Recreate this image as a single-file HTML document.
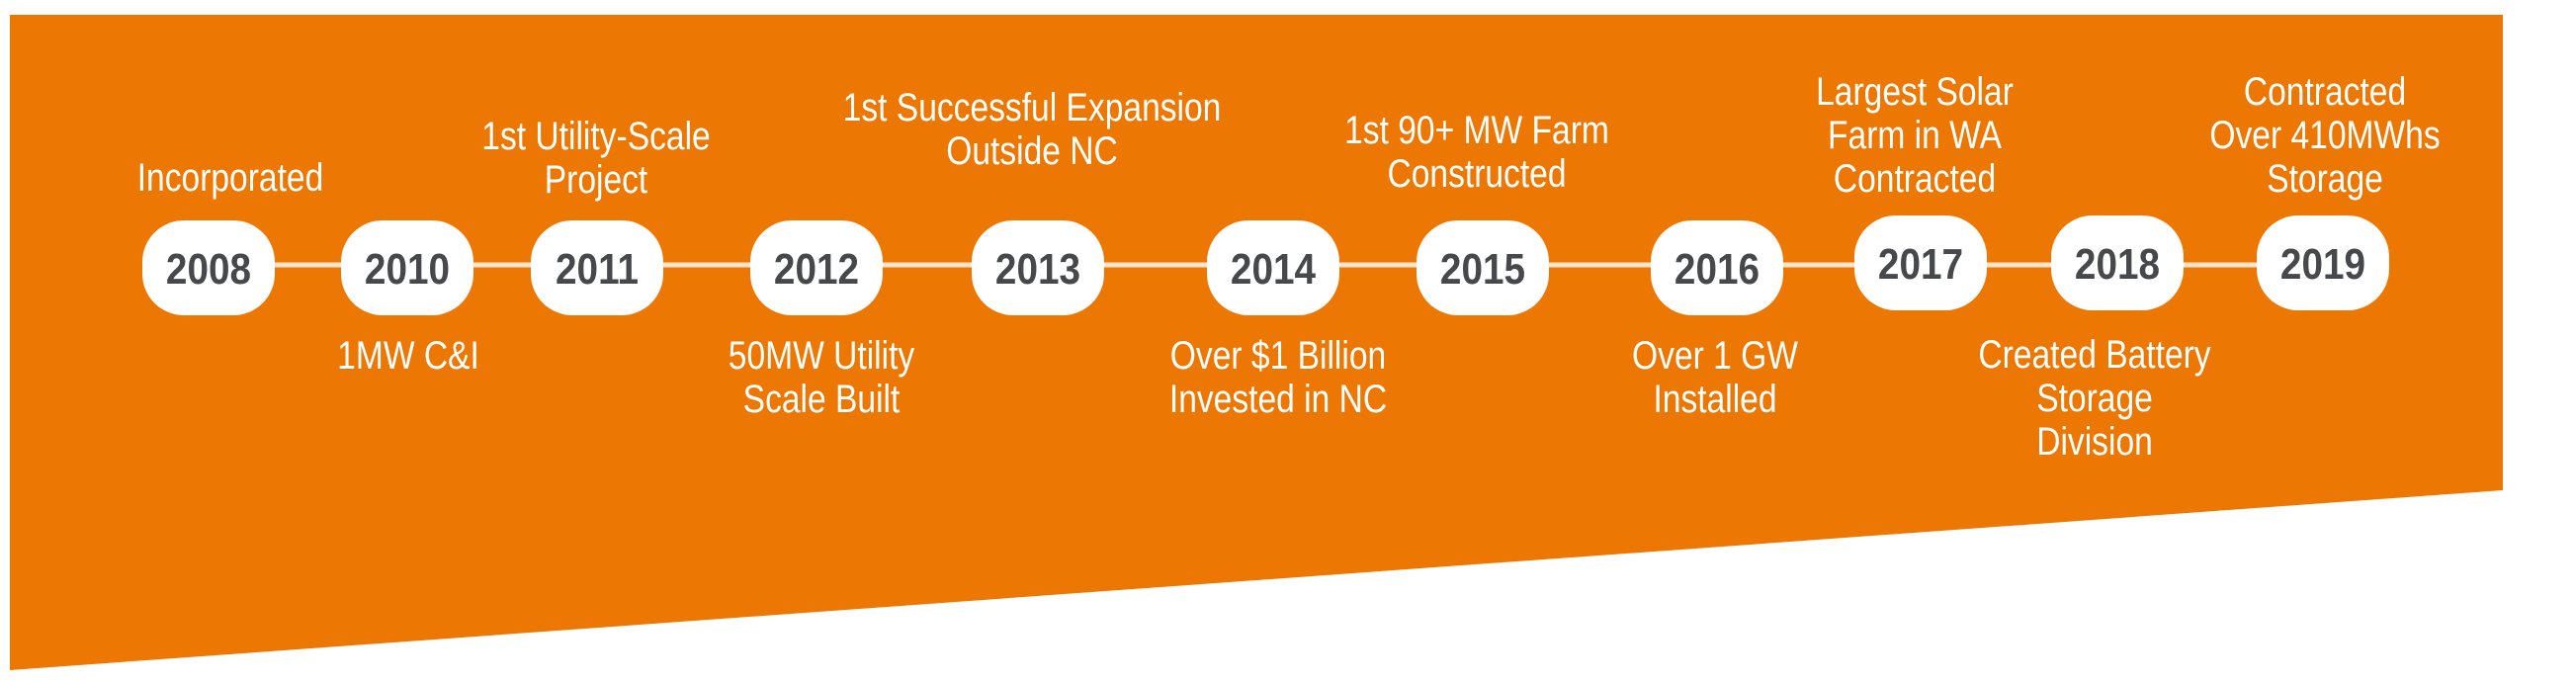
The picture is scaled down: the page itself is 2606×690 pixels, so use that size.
<!DOCTYPE html>
<html><head><meta charset="utf-8"><style>
html,body{margin:0;padding:0;background:#fff;width:2606px;height:690px;overflow:hidden}
svg{display:block}
.lbl{font-family:"Liberation Sans Narrow","Liberation Sans",sans-serif;font-size:40px;fill:#fff;text-anchor:middle}
.yr{font-family:"Liberation Sans",sans-serif;font-weight:bold;font-size:44px;fill:#47484b;text-anchor:middle}
</style></head><body>
<svg id="chart" width="2606" height="690" viewBox="0 0 2606 690">
<polygon points="10,15 2532,15 2532,496 10,678" fill="#ec7703"/>
<g id="marks"></g>
</svg>
<script>
const years=["2008","2010","2011","2012","2013","2014","2015","2016","2017","2018","2019"];
const centersX=[211,412,604,826,1050,1288,1500,1737,1943,2142,2350];
const centersY=[271,271,271,271,271,271,271,271,266,266,266];
const labels=[["Incorporated"],["1MW C&I"],["1st Utility-Scale","Project"],["50MW Utility","Scale Built"],["1st Successful Expansion","Outside NC"],["Over $1 Billion","Invested in NC"],["1st 90+ MW Farm","Constructed"],["Over 1 GW","Installed"],["Largest Solar","Farm in WA","Contracted"],["Created Battery","Storage","Division"],["Contracted","Over 410MWhs","Storage"]];
const labelX=[233,413,603,831,1044,1293,1494,1735,1937,2119,2352];
const labelBaseY=[193,373,151,373,122,373,145,373,106,372,106];
const NS="http://www.w3.org/2000/svg";
const g=document.getElementById('marks');
const line=document.createElementNS(NS,'line');


line.setAttribute('x1',centersX[0]);line.setAttribute('x2',centersX[centersX.length-1]);
line.setAttribute('y1',268);line.setAttribute('y2',268);
line.setAttribute('stroke','#fbe3cc');line.setAttribute('stroke-width','5');
g.appendChild(line);
years.forEach((y,i)=>{
  const r=document.createElementNS(NS,'rect');
  
  
  r.setAttribute('x',centersX[i]-67);r.setAttribute('y',centersY[i]-48);
  r.setAttribute('width',134);r.setAttribute('height',96);
  r.setAttribute('rx',42);r.setAttribute('ry',42);r.setAttribute('fill','#fff');
  g.appendChild(r);
  const t=document.createElementNS(NS,'text');
  
  
  t.setAttribute('class','yr');
  t.setAttribute('transform','translate('+centersX[i]+','+(centersY[i]+16)+') scale(0.88,1)');
  t.textContent=y;g.appendChild(t);
  labels[i].forEach((s,j)=>{
    const l=document.createElementNS(NS,'text');
    
    
    l.setAttribute('class','lbl');
    l.setAttribute('transform','translate('+labelX[i]+','+(labelBaseY[i]+j*44)+') scale(0.84,1)');
    l.textContent=s;g.appendChild(l);
  });
});
</script>
</body></html>
